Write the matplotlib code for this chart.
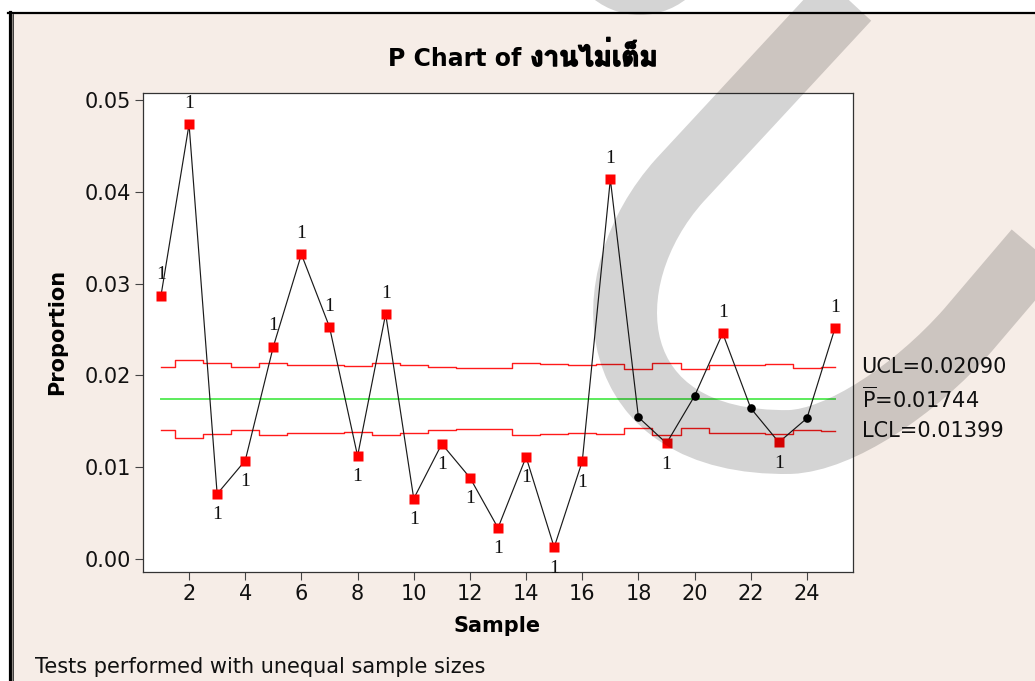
import numpy as np
import matplotlib
matplotlib.use('Agg')
import matplotlib.pyplot as plt
import matplotlib.transforms as mtransforms
import matplotlib.patheffects as pe
from matplotlib import font_manager
from matplotlib.ft2font import FT2Font
from matplotlib.path import Path
from matplotlib.patches import PathPatch, Rectangle, Circle

# P chart data (unequal sample sizes -> limits change per sample)
sample = np.arange(1, 26)
proportion = [0.02868, 0.04735, 0.00708, 0.01072, 0.02313, 0.03319, 0.02527,
              0.01122, 0.02669, 0.00657, 0.01253, 0.00886, 0.00338, 0.01111,
              0.00127, 0.01064, 0.04136, 0.01544, 0.01260, 0.01776, 0.02459,
              0.01642, 0.01271, 0.01533, 0.02516]
ucl = [0.02086, 0.02169, 0.02130, 0.02086, 0.02136, 0.02114, 0.02114, 0.02100,
       0.02136, 0.02114, 0.02086, 0.02075, 0.02075, 0.02136, 0.02125, 0.02114,
       0.02125, 0.02064, 0.02136, 0.02064, 0.02114, 0.02114, 0.02125, 0.02078,
       0.02090]
lcl = [0.01402, 0.01319, 0.01358, 0.01402, 0.01352, 0.01374, 0.01374, 0.01388,
       0.01352, 0.01374, 0.01402, 0.01413, 0.01413, 0.01352, 0.01363, 0.01374,
       0.01363, 0.01424, 0.01352, 0.01424, 0.01374, 0.01374, 0.01363, 0.01410,
       0.01399]
p_bar = 0.01744

title_latin = 'P Chart of'
title_thai = 'งานไม่เต็ม'
x_ticks = list(range(2, 25, 2))
y_ticks = [0.00, 0.01, 0.02, 0.03, 0.04, 0.05]


def thai_family():
    # first installed font that has Thai glyphs
    for f in font_manager.fontManager.ttflist:
        try:
            if 0x0E07 in FT2Font(f.fname).get_charmap():
                return f.name
        except Exception:
            pass
    return 'DejaVu Sans'


plt.rcParams['font.family'] = ['DejaVu Sans']
W, H = 1035, 681
fig = plt.figure(figsize=(W / 100, H / 100), dpi=100, facecolor='white')

# window background and frame
bg = fig.add_axes([0, 0, 1, 1], zorder=-5)
bg.set_xlim(0, W)
bg.set_ylim(H, 0)
bg.axis('off')
bg.add_patch(Rectangle((11, 13), W, H, facecolor='#F6EDE7', edgecolor='none'))
bg.plot([8, W], [13, 13], color='black', lw=1.6)
bg.plot([9.5, 9.5], [12, H], color='black', lw=2.3)
bg.plot([11.8, 11.8], [14, H], color='#8a8580', lw=0.8)
bg.plot([12.8, 12.8], [14, H], color='#222222', lw=0.6)

ax = fig.add_axes([143 / W, 1 - 572 / H, 710 / W, 479 / H], zorder=1)
ax.set_facecolor('white')

# control limits
ax.plot(sample, ucl, drawstyle='steps-mid', color='#FF1A1A', lw=1.0)
ax.plot(sample, lcl, drawstyle='steps-mid', color='#FF1A1A', lw=1.0)
ax.plot([sample[0], sample[-1]], [p_bar, p_bar], color='#5CEB5C', lw=1.4)

# proportions
ax.plot(sample, proportion, color='#1a1a1a', lw=0.85, zorder=3)
for s, p, u, l in zip(sample, proportion, ucl, lcl):
    if p > u or p < l:
        ax.plot(s, p, marker='s', ms=6.8, color='#FF0000', mec='none', zorder=4)
        off = 15 if p > u else -15
        ax.annotate('1', (s, p), xytext=(0, off), textcoords='offset points',
                    ha='center', va='center', fontsize=14,
                    family='Liberation Serif', color='#111111')
    else:
        ax.plot(s, p, marker='o', ms=6.2, color='black', mec='none', zorder=4)

ax.set_xlim(0.36, 25.64)
ax.set_ylim(-0.00142, 0.05076)
ax.set_xticks(x_ticks)
ax.set_yticks(y_ticks)
ax.set_yticklabels([f'{v:.2f}' for v in y_ticks])
ax.tick_params(direction='out', length=5.5, width=0.8, color='#444444',
               labelsize=15, labelcolor='#111111', pad=3)
for side in ['top', 'right', 'left', 'bottom']:
    ax.spines[side].set_color('#333333')
    ax.spines[side].set_linewidth(0.9)

# limit labels at right
trans = mtransforms.blended_transform_factory(ax.transAxes, ax.transData)
ax.text(1.012, ucl[-1], f'UCL={ucl[-1]:.5f}', transform=trans, va='center',
        ha='left', fontsize=15, color='#111111')
ax.text(1.012, p_bar, r'$\overline{\mathrm{P}}$' + f'={p_bar:.5f}',
        transform=trans, va='center', ha='left', fontsize=15, color='#111111')
ax.text(1.012, lcl[-1], f'LCL={lcl[-1]:.5f}', transform=trans, va='center',
        ha='left', fontsize=15, color='#111111')

# title in two pieces so the Thai part can get its own font
fig.text(521 / W, 1 - 66 / H, title_latin, ha='right', va='baseline',
         fontsize=17, fontweight='bold')
fig.text(530 / W, 1 - 66 / H, title_thai, ha='left', va='baseline',
         fontsize=20, fontweight='bold', family=[thai_family(), 'DejaVu Sans'],
         path_effects=[pe.withStroke(linewidth=1.1, foreground='black')])
fig.text(57 / W, 1 - 332 / H, 'Proportion', rotation=90, ha='center',
         va='center', fontsize=15, fontweight='bold')
fig.text(497 / W, 1 - 626 / H, 'Sample', ha='center', va='center',
         fontsize=15, fontweight='bold')
fig.text(35 / W, 1 - 667 / H, 'Tests performed with unequal sample sizes',
         ha='left', va='center', fontsize=15, color='#111111')

# grey watermark stroke over everything
wm = fig.add_axes([0, 0, 1, 1], zorder=10)
wm.set_xlim(0, W)
wm.set_ylim(H, 0)
wm.axis('off')
wm.patch.set_alpha(0)
verts = [(921, -80), (680, 180),
         (590, 280), (600, 445), (790, 442),
         (840, 440), (915, 390), (968, 330),
         (1100, 175)]
codes = [Path.MOVETO, Path.LINETO,
         Path.CURVE4, Path.CURVE4, Path.CURVE4,
         Path.CURVE4, Path.CURVE4, Path.CURVE4,
         Path.LINETO]
wm.add_patch(PathPatch(Path(verts, codes), facecolor='none', edgecolor='black',
                       lw=46, alpha=0.17, capstyle='butt', joinstyle='round'))
wm.add_patch(Circle((640, -60), 75, facecolor='black', edgecolor='none',
                    alpha=0.17))

fig.savefig('out.png', dpi=100, facecolor=fig.get_facecolor())
